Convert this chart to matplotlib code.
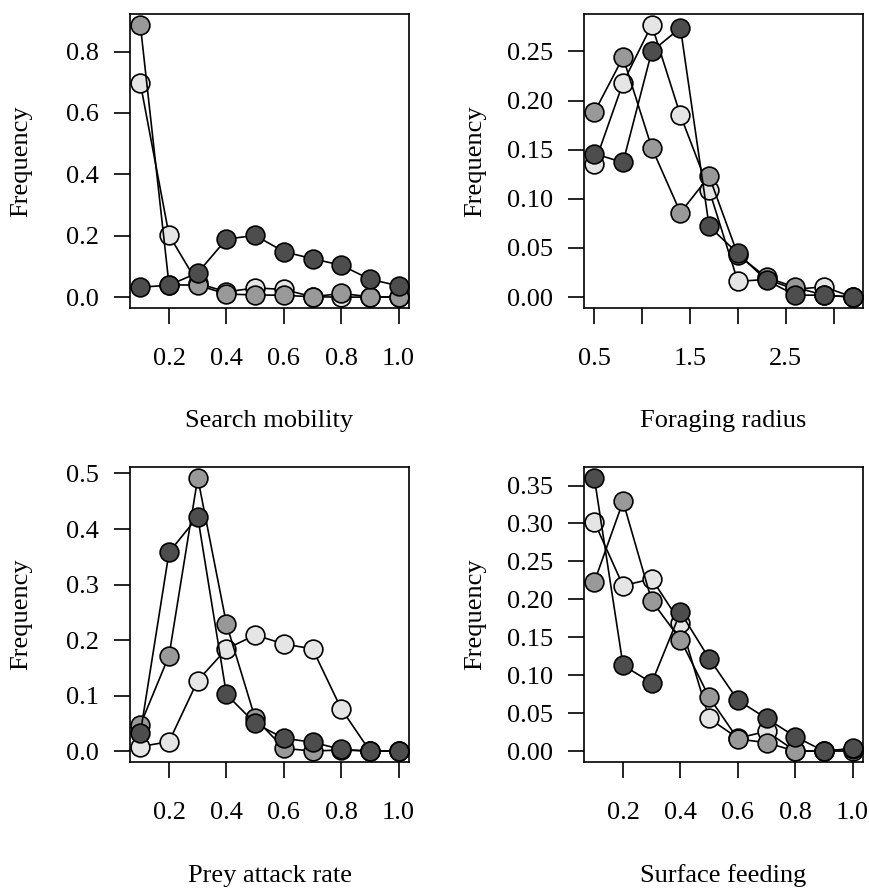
import matplotlib.pyplot as plt

plt.rcParams['font.family'] = ['Liberation Serif', 'DejaVu Serif']

# trait values on each x axis
x_unit = [0.1, 0.2, 0.3, 0.4, 0.5, 0.6, 0.7, 0.8, 0.9, 1.0]
x_radius = [0.5, 0.8, 1.1, 1.4, 1.7, 2.0, 2.3, 2.6, 2.9, 3.2]

# frequency distributions (light, mid, dark groups)
search_light = [0.697, 0.202, 0.045, 0.017, 0.030, 0.025, 0.001, 0.0, 0.0, 0.0]
search_mid = [0.887, 0.040, 0.039, 0.010, 0.007, 0.006, 0.001, 0.012, 0.001, 0.0]
search_dark = [0.032, 0.039, 0.079, 0.189, 0.201, 0.148, 0.125, 0.104, 0.058, 0.037]

radius_light = [0.135, 0.218, 0.277, 0.185, 0.109, 0.016, 0.018, 0.008, 0.0105, 0.0]
radius_mid = [0.188, 0.244, 0.152, 0.086, 0.123, 0.043, 0.020, 0.010, 0.002, 0.0]
radius_dark = [0.146, 0.137, 0.250, 0.274, 0.072, 0.0445, 0.017, 0.002, 0.002, 0.0]

attack_light = [0.008, 0.017, 0.127, 0.184, 0.209, 0.193, 0.184, 0.076, 0.0, 0.0]
attack_mid = [0.047, 0.172, 0.492, 0.229, 0.059, 0.005, 0.0, 0.002, 0.0, 0.0]
attack_dark = [0.032, 0.358, 0.422, 0.102, 0.050, 0.023, 0.016, 0.003, 0.0, 0.0]

surface_light = [0.302, 0.218, 0.227, 0.169, 0.043, 0.017, 0.026, 0.0, 0.0, 0.0]
surface_mid = [0.223, 0.329, 0.198, 0.147, 0.071, 0.016, 0.011, 0.0, 0.0, 0.003]
surface_dark = [0.360, 0.113, 0.090, 0.183, 0.122, 0.067, 0.043, 0.019, 0.0, 0.0035]

fills = ['#e5e5e5', '#999999', '#4d4d4d']

panels = [
    ("Search mobility", x_unit, [search_light, search_mid, search_dark],
     [0.2, 0.4, 0.6, 0.8, 1.0], ["0.2", "0.4", "0.6", "0.8", "1.0"],
     [0.0, 0.2, 0.4, 0.6, 0.8], ["0.0", "0.2", "0.4", "0.6", "0.8"]),
    ("Foraging radius", x_radius, [radius_light, radius_mid, radius_dark],
     [0.5, 1.0, 1.5, 2.0, 2.5, 3.0], ["0.5", "", "1.5", "", "2.5", ""],
     [0.0, 0.05, 0.10, 0.15, 0.20, 0.25],
     ["0.00", "0.05", "0.10", "0.15", "0.20", "0.25"]),
    ("Prey attack rate", x_unit, [attack_light, attack_mid, attack_dark],
     [0.2, 0.4, 0.6, 0.8, 1.0], ["0.2", "0.4", "0.6", "0.8", "1.0"],
     [0.0, 0.1, 0.2, 0.3, 0.4, 0.5], ["0.0", "0.1", "0.2", "0.3", "0.4", "0.5"]),
    ("Surface feeding", x_unit, [surface_light, surface_mid, surface_dark],
     [0.2, 0.4, 0.6, 0.8, 1.0], ["0.2", "0.4", "0.6", "0.8", "1.0"],
     [0.0, 0.05, 0.10, 0.15, 0.20, 0.25, 0.30, 0.35],
     ["0.00", "0.05", "0.10", "0.15", "0.20", "0.25", "0.30", "0.35"]),
]

W, H = 870, 888
fig = plt.figure(figsize=(W / 100, H / 100), dpi=100)

# box corners in pixels: left, right, top, bottom
boxes = [(130, 409, 14, 308), (584, 863, 14, 308),
         (130, 409, 467, 762), (584, 863, 467, 762)]

for (xlab, xs, series, xt, xtl, yt, ytl), (l, r, t, b) in zip(panels, boxes):
    ax = fig.add_axes([l / W, 1 - b / H, (r - l) / W, (b - t) / H])
    for ys, fc in zip(series, fills):
        ax.plot(xs, ys, color='black', lw=1.2, marker='o', ms=13.5,
                mfc=fc, mec='black', mew=1.2, clip_on=False)
    # R-style 4% padding around the data range
    x0, x1 = min(xs), max(xs)
    ymax = max(max(s) for s in series)
    dx = (x1 - x0) * 0.04
    ax.set_xlim(x0 - dx, x1 + dx)
    ax.set_ylim(-ymax * 0.04, ymax * 1.04)
    ax.set_xticks(xt)
    ax.set_xticklabels(xtl)
    ax.set_yticks(yt)
    ax.set_yticklabels(ytl)
    ax.tick_params(labelsize=19, length=11.5, width=1.2, color='black')
    ax.tick_params(axis='x', pad=17)
    ax.tick_params(axis='y', pad=11)
    for sp in ax.spines.values():
        sp.set_linewidth(1.2)
    ax.set_xlabel(xlab, fontsize=19, va='center')
    ax.set_ylabel("Frequency", fontsize=19, va='center')
    ax.xaxis.set_label_coords(0.5, -0.385)
    ax.yaxis.set_label_coords(-0.39, 0.5)

fig.savefig("out.png", dpi=100)
